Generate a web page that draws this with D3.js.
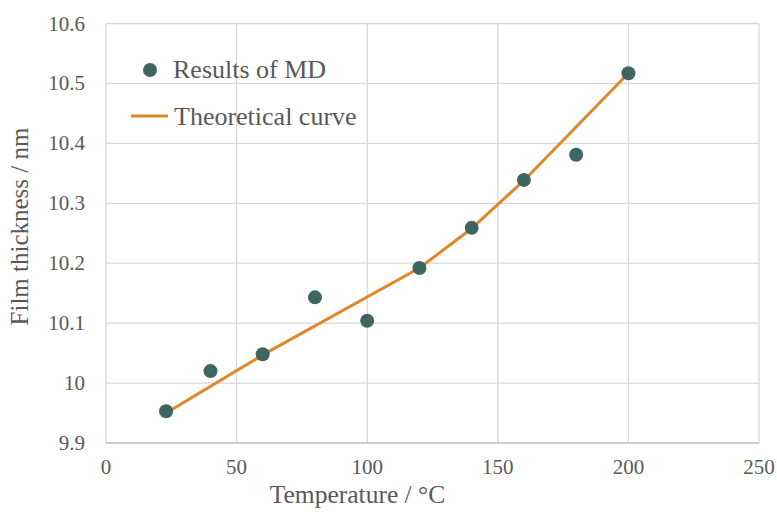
<!DOCTYPE html>
<html><head><meta charset="utf-8">
<script src="https://cdn.jsdelivr.net/npm/d3@7"></script>
</head><body style="margin:0">
<svg id="c" width="777" height="518" font-family="Liberation Serif"></svg>
<script>
const mdTemps = [23, 40, 60, 80, 100, 120, 140, 160, 180, 200];
const mdThickness = [9.953, 10.020, 10.048, 10.143, 10.104, 10.192, 10.259, 10.339, 10.381, 10.517];
const theoryTemps = [23, 60, 120, 140, 160, 200];
const theoryThickness = [9.950, 10.047, 10.192, 10.258, 10.338, 10.517];
const xTicks = [0, 50, 100, 150, 200, 250];
const yTicks = [9.9, 10, 10.1, 10.2, 10.3, 10.4, 10.5, 10.6];
const seriesNames = ["Results of MD", "Theoretical curve"];

const FONT = '"Liberation Serif"';
const svg = d3.select("#c");
const m = {l:106, r:759, t:23.5, b:443};
const x = d3.scaleLinear().domain([0,250]).range([m.l, m.r]);
const y = d3.scaleLinear().domain([9.9,10.6]).range([m.b, m.t]);

// grid
svg.append("g").selectAll("line").data(xTicks).join("line")
  .attr("x1", d=>x(d)).attr("x2", d=>x(d)).attr("y1", m.t).attr("y2", m.b)
  .attr("stroke", "#d9d9d9").attr("stroke-width", 1.3);
svg.append("g").selectAll("line").data(yTicks).join("line")
  .attr("x1", m.l).attr("x2", m.r).attr("y1", d=>y(d)).attr("y2", d=>y(d))
  .attr("stroke", d=> d===9.9 ? "#bfbfbf" : "#d9d9d9").attr("stroke-width", d=> d===9.9 ? 1.6 : 1.3);

// line
const line = d3.line().x((d,i)=>x(theoryTemps[i])).y(d=>y(d));
svg.append("path").datum(theoryThickness).attr("d", line)
  .attr("fill","none").attr("stroke","#e0872a").attr("stroke-width",3).attr("stroke-linejoin","round");

// points
svg.append("g").selectAll("circle").data(mdThickness).join("circle")
  .attr("cx",(d,i)=>x(mdTemps[i])).attr("cy", d=>y(d)).attr("r",7).attr("fill","#3e6661");

// tick labels via scales
const xAx = d3.axisBottom(x).tickValues(xTicks).tickFormat(d3.format("d"));
const yAx = d3.axisLeft(y).tickValues(yTicks).tickFormat(d=> d===10 ? "10" : d3.format(".1f")(d));
svg.selectAll("text.xt").data(xAx.tickValues()).join("text").attr("class","xt")
  .attr("x", d=>x(d)).attr("y", m.b + 31).attr("text-anchor","middle")
  .style("font-family",FONT).style("font-size","21px").attr("fill","#595959")
  .text(xAx.tickFormat());
svg.selectAll("text.yt").data(yAx.tickValues()).join("text").attr("class","yt")
  .attr("x", m.l - 21).attr("y", d=>y(d) + 7).attr("text-anchor","end")
  .style("font-family",FONT).style("font-size","21px").attr("fill","#595959")
  .text(yAx.tickFormat());

// legend
svg.append("circle").attr("cx",150).attr("cy",70).attr("r",7).attr("fill","#3e6661");
svg.append("text").attr("x",173).attr("y",78).style("font-family",FONT).style("font-size","26px").attr("fill","#595959").text(seriesNames[0]);
svg.append("line").attr("x1",131).attr("x2",168).attr("y1",116).attr("y2",116).attr("stroke","#e0872a").attr("stroke-width",3);
svg.append("text").attr("x",174).attr("y",124.5).style("font-family",FONT).style("font-size","26px").attr("fill","#595959").text(seriesNames[1]);

// axis titles
svg.append("text").attr("x",357.5).attr("y",503).attr("text-anchor","middle")
  .style("font-family",FONT).style("font-size","25.5px").attr("fill","#595959").text("Temperature / \u00B0C");
svg.append("text").attr("transform",`translate(28,226.5) rotate(-90)`).attr("text-anchor","middle")
  .style("font-family",FONT).style("font-size","25px").attr("fill","#595959").text("Film thickness / nm");
</script>
</body></html>
